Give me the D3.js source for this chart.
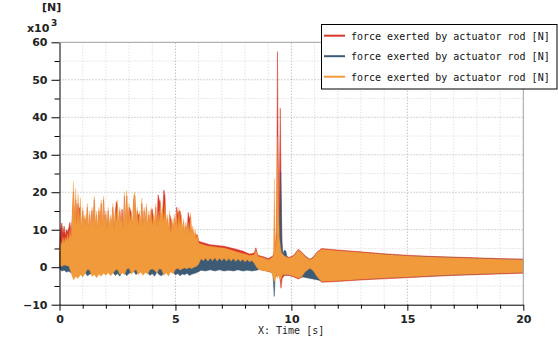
<!DOCTYPE html>
<html>
<head>
<meta charset="utf-8">
<script src="https://cdn.jsdelivr.net/npm/d3@7"></script>
<style>
  html, body { margin: 0; padding: 0; background: #fff; }
  svg { display: block; }
</style>
</head>
<body>
<svg id="chart" width="558" height="345"></svg>
<script>
// ---------------- DATA ----------------
const seriesNames = ["force exerted by actuator rod [N]", "force exerted by actuator rod [N]", "force exerted by actuator rod [N]"];
const seriesColors = ["#d8372b", "#3d5b75", "#f09a3b"];

const xMajorTicks = [0, 5, 10, 15, 20];
const xMinorTicks = [1, 2, 3, 4, 6, 7, 8, 9, 11, 12, 13, 14, 16, 17, 18, 19];
const yMajorTicks = [-10, 0, 10, 20, 30, 40, 50, 60];
const yMinorTicks = [-5, 5, 15, 25, 35, 45, 55];

// envelope of each signal: [time s, force kN]
const redTop = [
[0,6],[0.05,10],[0.1,11.8],[0.15,9],[0.2,11],[0.25,8.5],[0.3,10],[0.35,9.5],[0.4,10.5],[0.45,12],
[0.5,9],[0.55,13],[0.6,20],[0.65,13],[0.7,18],[0.75,14],[0.8,17],[0.85,15.5],[0.9,16],[0.95,9],
[1,15],[1.05,11],[1.1,13],[1.15,10],[1.2,16],[1.25,9],[1.3,14],[1.35,10],[1.4,15],[1.45,11],
[1.5,18],[1.55,10],[1.6,14],[1.65,9],[1.7,15],[1.75,11],[1.8,17],[1.85,10],[1.9,18],[1.95,11],
[2,14],[2.05,9],[2.1,15],[2.15,10],[2.2,13],[2.25,11],[2.3,16],[2.35,9],[2.4,14],[2.45,17.5],
[2.5,16],[2.55,10],[2.6,15],[2.65,11],[2.7,15.5],[2.75,9],[2.8,19],[2.85,11],[2.9,19],[2.95,10],
[3,16],[3.05,15.5],[3.1,14],[3.15,10],[3.2,18],[3.25,19],[3.3,11],[3.35,15],[3.4,14],[3.45,14],
[3.5,11],[3.55,17],[3.6,10],[3.65,15],[3.7,11],[3.75,16],[3.8,9],[3.85,14],[3.9,11],[3.95,15],
[4,15.5],[4.05,13],[4.1,11],[4.15,16],[4.2,10],[4.25,19.3],[4.3,18],[4.35,17],[4.4,12],[4.45,15],
[4.5,20.6],[4.55,19],[4.6,10],[4.65,13],[4.7,9],[4.75,14],[4.8,13],[4.85,11.5],[4.9,9],[4.95,13],
[5,10],[5.05,16],[5.1,14],[5.15,15],[5.2,15],[5.25,13],[5.3,9],[5.35,12],[5.4,8],[5.45,11],
[5.5,9],[5.55,14.6],[5.6,13],[5.65,13.5],[5.7,8],[5.75,10],[5.8,7.5],[5.85,9],[5.9,8.5],[5.95,8.5],
[6,7],[6.1,6.7],[6.5,6],[7.1,5.6],[7.5,5],[7.9,4.3],[8.2,3.5],[8.4,3.8],[8.47,5.2],[8.55,3.2],
[8.8,2.8],[9,2.3],[9.2,3],[9.3,5],[9.36,10],[9.4,57.5],[9.43,30],[9.47,15],[9.52,42.4],[9.56,20],
[9.6,4],[9.7,3.2],[9.9,2.6],[10.1,3.2],[10.3,4.8],[10.45,4],[10.6,3],[10.8,2.1],[10.95,2.8],[11.1,4],
[11.3,5],[12,4.6],[13,4.1],[14,3.6],[15,3.2],[16,2.9],[17,2.7],[18,2.5],[19,2.3],[20,2.2]
];
const redBottom = [
[0,0],[1,-1],[2,-1],[3,-1],[4,-1],[5,-0.5],[6,0.5],[6.1,2],[8.4,1.5],[8.6,-0.5],
[9.2,-1.5],[9.5,-2],[9.55,-5.6],[9.6,-3],[9.7,-2.2],[9.9,-2.2],[10.1,-2.6],[10.3,-3.15],[10.45,-2.7],[10.6,-1.4],
[10.8,-0.5],[10.95,-1.2],[11.1,-2.7],[11.3,-4],[12,-3.8],[13,-3.4],[14,-3.1],[15,-2.8],[16,-2.5],[17,-2.2],
[18,-2],[19,-1.8],[20,-1.6]
];

const blueTop = [
[0,4],[0.5,6],[1,8],[2,7],[3,8],[4,7],[5,6],[5.9,4],[6.05,2.6],[8.4,2.5],
[8.6,2],[9.2,2],[9.45,3],[9.5,15],[9.54,25.5],[9.58,8],[9.63,3.5],[9.7,4.6],[9.76,4.3],[9.83,2.4],
[10,2.2],[10.3,4.4],[10.8,1.8],[11.3,4.6],[12,4.2],[15,2.9],[20,1.9]
];
const blueBottom = [
[0,-0.5],[0.1,-1],[0.2,-0.8],[0.3,-1.3],[0.4,-1.1],[0.5,-1.5],[0.6,-2],[0.7,-1.8],[0.8,-2.2],[0.9,-1.5],
[1,-1.8],[1.1,-1.3],[1.2,-2.3],[1.3,-1.9],[1.4,-1.6],[1.5,-1.2],[1.6,-1.9],[1.7,-1.4],[1.8,-1.7],[1.9,-1.2],
[2,-1.5],[2.1,-1.1],[2.2,-1.6],[2.3,-1.3],[2.4,-2.2],[2.5,-1.7],[2.6,-2.4],[2.7,-1.2],[2.8,-1.5],[2.9,-2.3],
[3,-1.6],[3.1,-1.4],[3.2,-1],[3.3,-2],[3.4,-1.3],[3.5,-1],[3.6,-1.5],[3.7,-1.1],[3.8,-1.4],[3.9,-2.2],
[4,-1.7],[4.1,-2.4],[4.2,-1.3],[4.3,-2],[4.4,-2.3],[4.5,-1.6],[4.6,-1.1],[4.7,-1.5],[4.8,-1],[4.9,-1.3],
[5,-2.1],[5.1,-1.7],[5.2,-2.3],[5.3,-1.8],[5.4,-2],[5.5,-1.6],[5.6,-2.2],[5.7,-1.9],[5.8,-1.7],[5.9,-1.5],
[6,-1.2],[6.1,-0.8],[6.3,-1],[6.5,-0.7],[6.7,-1],[6.9,-0.7],[7.1,-1],[7.3,-0.8],[7.5,-1],[7.7,-0.7],
[7.9,-1],[8.1,-0.8],[8.3,-1],[8.5,-0.8],[8.6,-0.6],[9,-0.8],[9.2,-1.5],[9.26,-7.8],[9.3,-2.5],[9.5,-2],
[9.6,-2],[10,-2],[11.3,-3.6],[15,-2.5],[20,-1.3]
];

const orangeTop = [
[0,5],[0.05,7],[0.1,6],[0.15,8],[0.2,6.5],[0.25,8],[0.3,7],[0.35,9],[0.4,7],[0.45,10],
[0.5,8],[0.55,14],[0.6,22.8],[0.65,12],[0.7,21],[0.75,11],[0.8,19.5],[0.85,12],[0.9,18.6],[0.95,10],
[1,16],[1.05,12],[1.1,14],[1.15,11],[1.2,17],[1.25,10],[1.3,15],[1.35,11],[1.4,16],[1.45,12],
[1.5,19],[1.55,11],[1.6,15],[1.65,10],[1.7,16],[1.75,12],[1.8,18],[1.85,11],[1.9,19],[1.95,12],
[2,15],[2.05,10],[2.1,16],[2.15,11],[2.2,14],[2.25,12],[2.3,17],[2.35,10],[2.4,15],[2.45,12],
[2.5,18],[2.55,11],[2.6,16],[2.65,12],[2.7,14],[2.75,10],[2.8,20],[2.85,12],[2.9,20.5],[2.95,11],
[3,17],[3.05,12],[3.1,15],[3.15,11],[3.2,19],[3.25,20],[3.3,12],[3.35,16],[3.4,11],[3.45,15],
[3.5,12],[3.55,18.4],[3.6,11],[3.65,16],[3.7,12],[3.75,17],[3.8,10],[3.85,15],[3.9,12],[3.95,16],
[4,11],[4.05,14],[4.1,12],[4.15,17],[4.2,11],[4.25,15],[4.3,12],[4.35,18],[4.4,13],[4.45,16],
[4.5,12],[4.55,17],[4.6,11],[4.65,14],[4.7,10],[4.75,15],[4.8,9],[4.85,13],[4.9,10],[4.95,14],
[5,11],[5.05,15],[5.1,10],[5.15,16],[5.2,11],[5.25,14],[5.3,10],[5.35,13],[5.4,9],[5.45,12],
[5.5,10],[5.55,12],[5.6,9],[5.65,14.5],[5.7,9],[5.75,11],[5.8,8],[5.85,10],[5.9,7.5],[5.95,9],
[6,6.5],[6.1,6.2],[6.3,5.8],[6.5,5.6],[6.8,5.3],[7.1,5.1],[7.4,4.6],[7.7,4],[8,3.5],[8.2,3.1],
[8.4,3.3],[8.47,4.6],[8.55,2.9],[8.8,2.5],[9,2],[9.15,2.5],[9.22,3],[9.27,23.7],[9.31,4],[9.36,8],
[9.4,34.8],[9.44,20],[9.48,8],[9.52,6],[9.56,4],[9.62,3.5],[9.7,3],[9.9,2.4],[10.1,3],[10.3,4.6],
[10.45,3.8],[10.6,2.8],[10.8,1.95],[10.95,2.6],[11.1,3.8],[11.3,4.8],[12,4.4],[13,3.9],[14,3.4],[15,3],
[16,2.7],[17,2.5],[18,2.3],[19,2.1],[20,2]
];
const orangeBottom = [
[0,0.5],[0.1,0.2],[0.2,0.6],[0.3,0.4],[0.4,0.3],[0.5,-1.5],[0.6,-3.4],[0.7,-2.5],[0.8,-3],[0.9,-2],
[1,-2.6],[1.1,-1.8],[1.2,-0.6],[1.3,-0.8],[1.4,-2.5],[1.5,-2],[1.6,-2.8],[1.7,-1.9],[1.8,-2.4],[1.9,-1.6],
[2,-2.2],[2.1,-1.5],[2.2,-2.3],[2.3,-1.7],[2.4,-0.8],[2.5,-0.6],[2.6,-2],[2.7,-1.4],[2.8,-2.1],[2.9,-0.5],
[3,-0.3],[3.1,-1.9],[3.2,-1.2],[3.3,-0.6],[3.4,-2],[3.5,-1.3],[3.6,-2.2],[3.7,-1.4],[3.8,-1.9],[3.9,-0.7],
[4,-0.5],[4.1,-0.8],[4.2,-1.6],[4.3,-0.4],[4.4,-0.6],[4.5,-2.2],[4.6,-1.5],[4.7,-2.4],[4.8,-1.2],[4.9,-1.8],
[5,-0.6],[5.1,-0.3],[5.2,-0.8],[5.3,-0.4],[5.4,-0.2],[5.5,-0.5],[5.6,-0.1],[5.7,-0.4],[5.8,0],[5.9,0.2],
[6,0.8],[6.1,2.2],[6.2,1.7],[6.3,2.4],[6.4,1.6],[6.5,2.4],[6.6,1.7],[6.7,2.5],[6.8,1.6],[6.9,2.4],
[7,1.7],[7.1,2.4],[7.2,1.6],[7.3,2.3],[7.4,1.6],[7.5,2.3],[7.6,1.5],[7.7,2.2],[7.8,1.5],[7.9,2.1],
[8,1.4],[8.1,2],[8.2,1.4],[8.3,1.8],[8.4,1],[8.5,0],[8.6,-0.7],[8.8,-1],[9,-1],[9.15,-1.5],
[9.22,-3],[9.27,-4],[9.31,-3],[9.36,-2],[9.4,-3],[9.44,-2],[9.48,-3],[9.52,-3.5],[9.56,-3],[9.62,-2],
[9.7,-2],[9.9,-2],[10.1,-2.4],[10.3,-2.95],[10.45,-2.5],[10.6,-1.2],[10.8,-0.3],[10.95,-1],[11.1,-2.5],[11.3,-3.8],
[12,-3.6],[13,-3.2],[14,-2.9],[15,-2.6],[16,-2.3],[17,-2],[18,-1.8],[19,-1.6],[20,-1.4]
];

// ---------------- CHART ----------------
const svg = d3.select("#chart");
const x = d3.scaleLinear().domain([0, 20]).range([59.5, 523.3]);
const y = d3.scaleLinear().domain([-10, 60]).range([304.7, 42.3]);
const [x0, x1] = x.range();
const [yb, yt] = y.range();

// grid
const grid = svg.append("g");
grid.selectAll("line.vmin").data(xMinorTicks).join("line")
  .attr("x1", d => x(d)).attr("x2", d => x(d)).attr("y1", yb).attr("y2", yt)
  .attr("stroke", "#d4d4d4").attr("stroke-dasharray", "1,2");
grid.selectAll("line.vmaj").data(xMajorTicks.filter(d => d > 0 && d < 20)).join("line")
  .attr("x1", d => x(d)).attr("x2", d => x(d)).attr("y1", yb).attr("y2", yt)
  .attr("stroke", "#a8a8a8").attr("stroke-dasharray", "1,2");
grid.selectAll("line.hmin").data(yMinorTicks).join("line")
  .attr("y1", d => y(d)).attr("y2", d => y(d)).attr("x1", x0).attr("x2", x1)
  .attr("stroke", "#d4d4d4").attr("stroke-dasharray", "1,2");
grid.selectAll("line.hmaj").data(yMajorTicks.filter(d => d > -10 && d < 60)).join("line")
  .attr("y1", d => y(d)).attr("y2", d => y(d)).attr("x1", x0).attr("x2", x1)
  .attr("stroke", "#a8a8a8").attr("stroke-dasharray", "1,2");

// clip
svg.append("clipPath").attr("id", "plotclip").append("rect")
  .attr("x", x0).attr("y", yt).attr("width", x1 - x0).attr("height", yb - yt);

const line = d3.line().x(d => x(d[0])).y(d => y(d[1]));
function band(top, bottom) {
  return line(top.concat(bottom.slice().reverse())) + "Z";
}
const bands = [
  { top: redTop, bottom: redBottom, color: seriesColors[0], sw: 0.5 },
  { top: blueTop, bottom: blueBottom, color: seriesColors[1], sw: 0.5 },
  { top: orangeTop, bottom: orangeBottom, color: seriesColors[2], sw: 0.3 }
];
svg.append("g").attr("clip-path", "url(#plotclip)")
  .selectAll("path").data(bands).join("path")
  .attr("d", d => band(d.top, d.bottom))
  .attr("fill", d => d.color)
  .attr("stroke", d => d.color)
  .attr("stroke-width", d => d.sw)
  .attr("stroke-linejoin", "round");

// border top/right
svg.append("line").attr("x1", x0).attr("x2", x1).attr("y1", yt).attr("y2", yt).attr("stroke", "#a0a0a0");
svg.append("line").attr("x1", x1).attr("x2", x1).attr("y1", yt).attr("y2", yb).attr("stroke", "#a0a0a0");

const font = "'DejaVu Sans', Verdana, sans-serif";
// y axis
const yAxisMinor = d3.axisLeft(y).tickValues(yMinorTicks).tickSize(5).tickFormat("").tickSizeOuter(0);
const yAxis = d3.axisLeft(y).tickValues(yMajorTicks).tickSize(8).tickPadding(4).tickSizeOuter(0);
svg.append("g").attr("transform", `translate(${x0},0)`).call(yAxisMinor).select(".domain").remove();
const gy = svg.append("g").attr("transform", `translate(${x0},0)`).call(yAxis);
gy.selectAll("text").attr("font-family", font).attr("font-weight", "bold").attr("font-size", 11).attr("fill", "#222");
gy.selectAll("line, path").attr("stroke", "#000");

// x axis
const xAxisMinor = d3.axisBottom(x).tickValues(xMinorTicks).tickSize(4).tickFormat("").tickSizeOuter(0);
const xAxis = d3.axisBottom(x).tickValues(xMajorTicks).tickSize(6).tickPadding(5).tickSizeOuter(0);
svg.append("g").attr("transform", `translate(0,${yb})`).call(xAxisMinor).select(".domain").remove();
const gx = svg.append("g").attr("transform", `translate(0,${yb})`).call(xAxis);
gx.selectAll("text").attr("font-family", font).attr("font-weight", "bold").attr("font-size", 11).attr("fill", "#222");
gx.selectAll("line, path").attr("stroke", "#000");

// unit labels
svg.append("text").attr("x", 42).attr("y", 10.5).text("[N]")
  .attr("font-family", font).attr("font-weight", "bold").attr("font-size", 11).attr("fill", "#222");
const ux = svg.append("text").attr("x", 27).attr("y", 31.5)
  .attr("font-family", font).attr("font-weight", "bold").attr("font-size", 11).attr("fill", "#222");
ux.append("tspan").text("x10");
ux.append("tspan").attr("dy", -6).attr("font-size", 9).attr("dx", 1.5).text("3");

svg.append("text").attr("x", 258).attr("y", 334).text("X: Time [s]")
  .attr("font-family", "'DejaVu Sans Mono', 'Liberation Mono', monospace").attr("font-size", 10).attr("fill", "#222");

// legend
const lg = svg.append("g");
lg.append("rect").attr("x", 321.5).attr("y", 24.5).attr("width", 235.5).attr("height", 64.5)
  .attr("fill", "#fff").attr("stroke", "#000");
const items = lg.selectAll("g.item").data(seriesNames.map((n, i) => ({ n, c: seriesColors[i], i }))).join("g");
items.append("line").attr("x1", 324).attr("x2", 345)
  .attr("y1", d => 35.7 + d.i * 20.5).attr("y2", d => 35.7 + d.i * 20.5)
  .attr("stroke", d => d.c).attr("stroke-width", 2);
items.append("text").attr("x", 351).attr("y", d => 39.5 + d.i * 20.5).text(d => d.n)
  .attr("font-family", "'DejaVu Sans Mono', 'Liberation Mono', monospace").attr("font-size", 10).attr("fill", "#111");
</script>
</body>
</html>
